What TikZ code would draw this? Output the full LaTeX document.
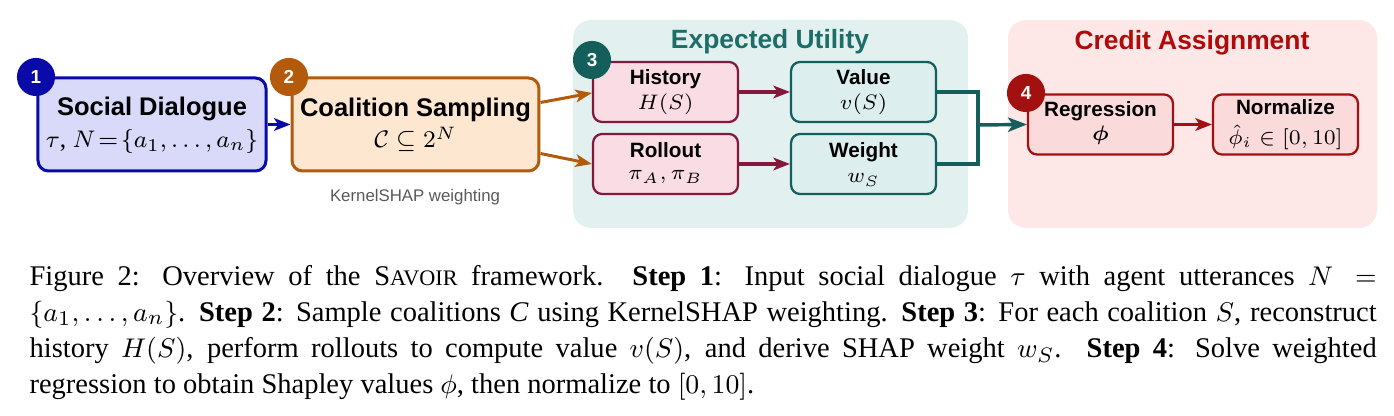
\documentclass[tikz,border=0pt]{standalone}
\usepackage{amsmath,amssymb}
\usepackage{fontspec}
\setmainfont{Liberation Serif}
\setsansfont{Liberation Sans}
\usetikzlibrary{arrows.meta,calc}
\definecolor{cblue}{HTML}{0A0AA8}
\definecolor{cbluefill}{HTML}{D9D9F9}
\definecolor{cbrown}{HTML}{B35A0C}
\definecolor{cbrownfill}{HTML}{FDE7D1}
\definecolor{cteal}{HTML}{145F5B}
\definecolor{ctealtitle}{HTML}{1D6D68}
\definecolor{ctealpanel}{HTML}{E2F1F0}
\definecolor{ctealfill}{HTML}{DCEEED}
\definecolor{cmaroon}{HTML}{86173C}
\definecolor{cmaroonfill}{HTML}{F9DCE4}
\definecolor{cred}{HTML}{A31010}
\definecolor{credtitle}{HTML}{B00A0A}
\definecolor{credpanel}{HTML}{FDE7E7}
\definecolor{credfill}{HTML}{FBDADC}
\begin{document}
\begin{tikzpicture}[x=0.3333pt,y=-0.3333pt,
  bigbox/.style={draw, line width=1pt, rounded corners=3.5pt, inner sep=0pt, minimum width=76pt, minimum height=31pt},
  smallbox/.style={draw, line width=0.75pt, rounded corners=3pt, inner sep=0pt, minimum width=48.3pt, minimum height=20pt},
  bigttl/.style={font=\sffamily\bfseries\fontsize{8.5}{10}\selectfont, anchor=base, inner sep=0pt},
  bigmath/.style={font=\fontsize{8.5}{10}\selectfont, anchor=base, inner sep=0pt},
  smallttl/.style={font=\sffamily\bfseries\fontsize{6.9}{8}\selectfont, anchor=base, inner sep=0pt},
  smallmath/.style={font=\fontsize{6.9}{8}\selectfont, anchor=base, inner sep=0pt},
  paneltitle/.style={font=\sffamily\bfseries\fontsize{8.8}{10}\selectfont, anchor=base, inner sep=0pt},
  badge/.style={circle, inner sep=0pt, minimum size=12.7pt, text=white, font=\sffamily\bfseries\fontsize{6.3}{7}\selectfont},
  arr/.style={line width=1pt, -{Stealth[length=5.5pt,width=4.2pt,inset=1.4pt]}},
  panel/.style={rounded corners=6pt}
]
\useasboundingbox (0,0) rectangle (1394,416);

% panels
\fill[panel, ctealpanel] (573,20) rectangle (968,228);
\fill[panel, credpanel] (1008,20) rectangle (1377,228);
\node[paneltitle, text=ctealtitle] (eut) at (770,49) {Expected Utility};
\node[paneltitle, text=credtitle] (cat) at (1192,50) {Credit Assignment};

% step 1 and 2
\node[bigbox, draw=cblue, fill=cbluefill] (sd) at (152,124.5) {};
\node[bigttl] (sdt) at (152,116) {Social Dialogue};
\node[bigmath] (sdm) at (152,148) {$\tau$, $N\!=\!\{a_1,\ldots,a_n\}$};

\node[bigbox, draw=cbrown, fill=cbrownfill, minimum width=82.3pt] (cs) at (415.5,124.5) {};
\node[bigttl] (cst) at (415.5,116.5) {Coalition Sampling};
\node[bigmath] (csm) at (415.5,148) {$\mathcal{C}\subseteq 2^N$};
\node[font=\sffamily\fontsize{5.6}{7}\selectfont, text=black!65, anchor=base, inner sep=0pt] (ksw) at (415,202) {KernelSHAP weighting};

% step 3
\node[smallbox, draw=cmaroon, fill=cmaroonfill] (hist) at (665.5,92) {};
\node[smallttl] (histt) at (665.5,85) {History};
\node[smallmath] (histm) at (665.5,109.5) {$H(S)$};

\node[smallbox, draw=cmaroon, fill=cmaroonfill] (roll) at (665.5,164) {};
\node[smallttl] (rollt) at (665.5,158) {Rollout};
\node[smallmath] (rollm) at (665.5,180) {$\pi_A,\pi_B$};

\node[smallbox, draw=cteal, fill=ctealfill] (val) at (863.5,92) {};
\node[smallttl] (valt) at (863.5,85) {Value};
\node[smallmath] (valm) at (863.5,109.5) {$v(S)$};

\node[smallbox, draw=cteal, fill=ctealfill] (wgt) at (863.5,164) {};
\node[smallttl] (wgtt) at (863.5,158) {Weight};
\node[smallmath] (wgtm) at (863.5,183) {$w_S$};

% step 4
\node[smallbox, draw=cred, fill=credfill] (reg) at (1100.5,124.5) {};
\node[smallttl] (regt) at (1100.5,117) {Regression};
\node[smallmath] (regm) at (1100.5,141) {$\boldsymbol{\phi}$};

\node[smallbox, draw=cred, fill=credfill] (norm) at (1285.5,124.5) {};
\node[smallttl] (normt) at (1285.5,114.5) {Normalize};
\node[smallmath] (normm) at (1285.5,145) {$\hat{\phi}_i\in[0,10]$};

% connectors
\draw[arr, cblue] (sd.east) -- (cs.west);
\draw[arr, cbrown] ($(cs.east)+(0,-22)$) -- ($(hist.west)+(0,1)$);
\draw[arr, cbrown] ($(cs.east)+(0,29)$) -- (roll.west);
\draw[arr, cmaroon, line width=1.2pt] (hist.east) -- (val.west);
\draw[arr, cmaroon, line width=1.2pt] (roll.east) -- (wgt.west);
\coordinate (junc) at (977,125);
\draw[cteal, line width=1.15pt] (val.east) -- ++(41,0) |- (wgt.east);
\draw[cteal, line width=1.15pt, -{Stealth[length=6.3pt,width=4.8pt,inset=1.6pt]}] (junc) -- (reg.west);
\draw[arr, cred, line width=1.1pt] (reg.east) -- (norm.west);

% badges
\node[badge, fill=cblue] (b1) at (36,77) {1};
\node[badge, fill=cbrown] (b2) at (289,77) {2};
\node[badge, fill=cteal] (b3) at (592,60) {3};
\node[badge, fill=cred] (b4) at (1026,93) {4};

% caption
\node[anchor=north west, inner sep=0pt, text width=449pt, align=justify, font=\fontsize{9.5}{12}\selectfont] (cap) at (29,259.8) {\hyphenpenalty=10000\exhyphenpenalty=10000\strut Figure 2: Overview of the S{\fontsize{7.4}{12}\selectfont AVOIR} framework. \textbf{Step 1}: Input social dialogue $\tau$ with agent utterances $N =$\linebreak $\{a_1,\ldots,a_n\}$. \textbf{Step 2}: Sample coalitions \textit{C} using KernelSHAP weighting. \textbf{Step 3}: For each coalition $S$, reconstruct\linebreak history $H(S)$, perform rollouts to compute value $v(S)$, and derive SHAP weight $w_S$. \textbf{Step 4}: Solve weighted\linebreak regression to obtain Shapley values $\phi$, then normalize to $[0,10]$.};
\end{tikzpicture}
\end{document}
